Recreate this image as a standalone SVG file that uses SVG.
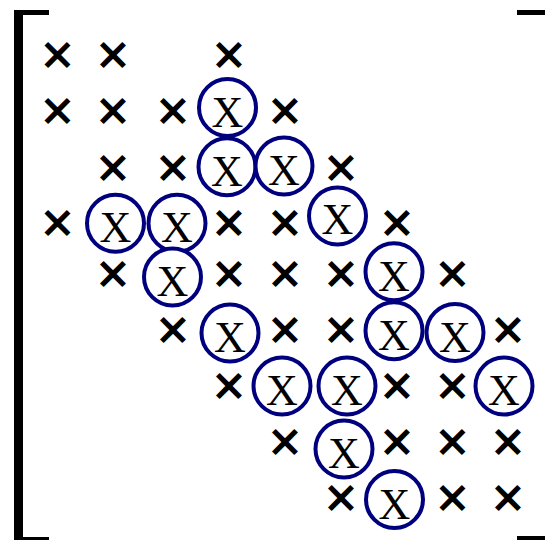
<svg xmlns="http://www.w3.org/2000/svg" width="545" height="540" viewBox="0 0 545 540">
<style>
.br{fill:#000}
.t{font-family:"DejaVu Sans",sans-serif;font-weight:bold;font-size:44px;fill:#000;text-anchor:middle}
.c{fill:#fff;stroke:#00007f;stroke-width:4}
.x{font-family:"Liberation Serif","Times New Roman",serif;font-size:44px;fill:#000;text-anchor:middle}
</style>
<rect width="545" height="540" fill="#fff"/>
<g id="brackets">
<rect class="br" x="14" y="10" width="9" height="535"/>
<rect class="br" x="14" y="10" width="35" height="5"/>
<rect class="br" x="14" y="537" width="35" height="5"/>
<rect class="br" x="517" y="10" width="30" height="5"/>
<rect class="br" x="517" y="536" width="30" height="5"/>
</g>
<g id="times">
<text class="t" x="57.5" y="69">×</text>
<text class="t" x="113" y="69">×</text>
<text class="t" x="229" y="69">×</text>
<text class="t" x="57.5" y="125">×</text>
<text class="t" x="113" y="125">×</text>
<text class="t" x="173" y="125">×</text>
<text class="t" x="285" y="125">×</text>
<text class="t" x="113" y="181.5">×</text>
<text class="t" x="173" y="181.5">×</text>
<text class="t" x="341" y="181.5">×</text>
<text class="t" x="57.5" y="236.5">×</text>
<text class="t" x="229" y="236.5">×</text>
<text class="t" x="285" y="236.5">×</text>
<text class="t" x="397" y="236.5">×</text>
<text class="t" x="113" y="288">×</text>
<text class="t" x="229" y="288">×</text>
<text class="t" x="285" y="288">×</text>
<text class="t" x="341" y="288">×</text>
<text class="t" x="452.5" y="288">×</text>
<text class="t" x="173" y="344">×</text>
<text class="t" x="285" y="344">×</text>
<text class="t" x="341" y="344">×</text>
<text class="t" x="508" y="344">×</text>
<text class="t" x="229" y="400">×</text>
<text class="t" x="397" y="400">×</text>
<text class="t" x="452.5" y="400">×</text>
<text class="t" x="285" y="455.5">×</text>
<text class="t" x="397" y="455.5">×</text>
<text class="t" x="452.5" y="455.5">×</text>
<text class="t" x="508" y="455.5">×</text>
<text class="t" x="341" y="512">×</text>
<text class="t" x="452.5" y="512">×</text>
<text class="t" x="508" y="512">×</text>
</g>
<g id="n1"><circle class="c" cx="227.5" cy="107.5" r="28.5"/><text class="x" x="227.5" y="126.5">X</text></g>
<g id="n2"><circle class="c" cx="227" cy="166.7" r="28.5"/><text class="x" x="227" y="185.7">X</text></g>
<g id="n3"><circle class="c" cx="284" cy="166" r="28.5"/><text class="x" x="284" y="185">X</text></g>
<g id="n4"><circle class="c" cx="115.5" cy="223.3" r="28.5"/><text class="x" x="115.5" y="242.3">X</text></g>
<g id="n5"><circle class="c" cx="177" cy="223.3" r="28.5"/><text class="x" x="177" y="242.3">X</text></g>
<g id="n6"><circle class="c" cx="337.5" cy="216" r="28.5"/><text class="x" x="337.5" y="234">X</text></g>
<g id="n7"><circle class="c" cx="172.5" cy="277" r="28.5"/><text class="x" x="172.5" y="296">X</text></g>
<g id="n8"><circle class="c" cx="394" cy="271.7" r="28.5"/><text class="x" x="394" y="290.5">X</text></g>
<g id="n9"><circle class="c" cx="394" cy="330.8" r="28.5"/><text class="x" x="394" y="349.8">X</text></g>
<g id="n10"><circle class="c" cx="455" cy="332.5" r="28.5"/><text class="x" x="455" y="351.5">X</text></g>
<g id="n11"><circle class="c" cx="230" cy="333" r="28.5"/><text class="x" x="230" y="352">X</text></g>
<g id="n12"><circle class="c" cx="282" cy="386" r="28.5"/><text class="x" x="282" y="405">X</text></g>
<g id="n13"><circle class="c" cx="347" cy="386" r="28.5"/><text class="x" x="347" y="405">X</text></g>
<g id="n14"><circle class="c" cx="504" cy="386" r="28.5"/><text class="x" x="504" y="405">X</text></g>
<g id="n15"><circle class="c" cx="344" cy="449" r="28.5"/><text class="x" x="344" y="468">X</text></g>
<g id="n16"><circle class="c" cx="394.5" cy="499.5" r="28.5"/><text class="x" x="394.5" y="518.5">X</text></g>
<g id="connectors"/>
</svg>
